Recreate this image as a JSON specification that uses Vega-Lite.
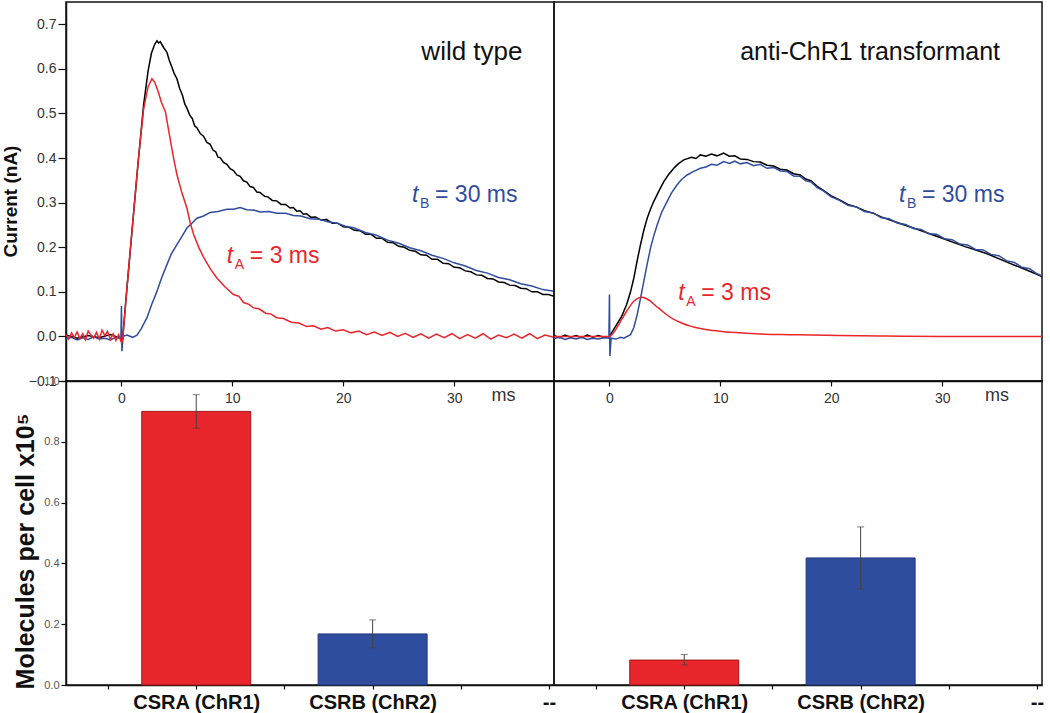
{
  "$schema": "https://vega.github.io/schema/vega-lite/v6.json",
  "background": "white",
  "padding": {"left": 0, "top": 1, "right": 2, "bottom": 4},
  "autosize": {"type": "pad"},
  "columns": 2,
  "spacing": 0,
  "bounds": "flush",
  "align": "each",
  "config": {
    "font": "Liberation Sans",
    "view": {"stroke": "#111111", "strokeWidth": 1.5},
    "axis": {"domainColor": "#111111", "domainWidth": 1.5, "tickColor": "#111111", "tickWidth": 1.2, "labelColor": "#333333", "labelFont": "Liberation Sans", "titleFont": "Liberation Sans", "titleColor": "#111111", "grid": false, "labelOverlap": false, "labelFlush": false}
  },
  "datasets": {
    "wt": [
      {"trace": "k", "t": -5, "v": 0.003}, {"trace": "k", "t": -4, "v": -0.004}, {"trace": "k", "t": -3, "v": 0.002}, {"trace": "k", "t": -2, "v": -0.003}, {"trace": "k", "t": -1, "v": 0.004}, {"trace": "k", "t": -0.1, "v": -0.004},
      {"trace": "k", "t": 0.1, "v": -0.006}, {"trace": "k", "t": 0.5, "v": 0.11}, {"trace": "k", "t": 1.0, "v": 0.25}, {"trace": "k", "t": 1.5, "v": 0.39}, {"trace": "k", "t": 2.0, "v": 0.52}, {"trace": "k", "t": 2.4, "v": 0.595}, {"trace": "k", "t": 2.7, "v": 0.635}, {"trace": "k", "t": 3.0, "v": 0.655}, {"trace": "k", "t": 3.2, "v": 0.663}, {"trace": "k", "t": 3.35, "v": 0.658}, {"trace": "k", "t": 3.5, "v": 0.661}, {"trace": "k", "t": 3.8, "v": 0.648}, {"trace": "k", "t": 4.1, "v": 0.637}, {"trace": "k", "t": 4.3, "v": 0.62}, {"trace": "k", "t": 4.5, "v": 0.607}, {"trace": "k", "t": 4.75, "v": 0.59}, {"trace": "k", "t": 5.0, "v": 0.578}, {"trace": "k", "t": 5.25, "v": 0.556}, {"trace": "k", "t": 5.5, "v": 0.541}, {"trace": "k", "t": 5.7, "v": 0.522}, {"trace": "k", "t": 5.9, "v": 0.512}, {"trace": "k", "t": 6.15, "v": 0.497}, {"trace": "k", "t": 6.4, "v": 0.488}, {"trace": "k", "t": 6.6, "v": 0.472}, {"trace": "k", "t": 6.8, "v": 0.468}, {"trace": "k", "t": 7.1, "v": 0.455}, {"trace": "k", "t": 7.4, "v": 0.449}, {"trace": "k", "t": 7.7, "v": 0.435}, {"trace": "k", "t": 8.0, "v": 0.431}, {"trace": "k", "t": 8.25, "v": 0.418}, {"trace": "k", "t": 8.5, "v": 0.414}, {"trace": "k", "t": 8.7, "v": 0.402}, {"trace": "k", "t": 8.9, "v": 0.401}, {"trace": "k", "t": 9.2, "v": 0.39}, {"trace": "k", "t": 9.5, "v": 0.386}, {"trace": "k", "t": 9.8, "v": 0.376}, {"trace": "k", "t": 10.1, "v": 0.372}, {"trace": "k", "t": 10.4, "v": 0.362}, {"trace": "k", "t": 10.7, "v": 0.359}, {"trace": "k", "t": 11.0, "v": 0.349}, {"trace": "k", "t": 11.3, "v": 0.346}, {"trace": "k", "t": 11.6, "v": 0.336}, {"trace": "k", "t": 11.9, "v": 0.334}, {"trace": "k", "t": 12.2, "v": 0.324}, {"trace": "k", "t": 12.5, "v": 0.323}, {"trace": "k", "t": 12.9, "v": 0.314}, {"trace": "k", "t": 13.2, "v": 0.313}, {"trace": "k", "t": 13.6, "v": 0.305}, {"trace": "k", "t": 14.0, "v": 0.304}, {"trace": "k", "t": 14.4, "v": 0.296}, {"trace": "k", "t": 14.8, "v": 0.296}, {"trace": "k", "t": 15.2, "v": 0.288}, {"trace": "k", "t": 15.5, "v": 0.289}, {"trace": "k", "t": 15.8, "v": 0.281}, {"trace": "k", "t": 16.1, "v": 0.282}, {"trace": "k", "t": 16.4, "v": 0.274}, {"trace": "k", "t": 16.7, "v": 0.275}, {"trace": "k", "t": 17.1, "v": 0.267}, {"trace": "k", "t": 17.5, "v": 0.268}, {"trace": "k", "t": 18.0, "v": 0.261}, {"trace": "k", "t": 18.5, "v": 0.262}, {"trace": "k", "t": 19.0, "v": 0.254}, {"trace": "k", "t": 19.5, "v": 0.254}, {"trace": "k", "t": 20.0, "v": 0.246}, {"trace": "k", "t": 20.5, "v": 0.245}, {"trace": "k", "t": 21.0, "v": 0.238}, {"trace": "k", "t": 21.5, "v": 0.237}, {"trace": "k", "t": 22.0, "v": 0.229}, {"trace": "k", "t": 22.5, "v": 0.229}, {"trace": "k", "t": 23.0, "v": 0.22}, {"trace": "k", "t": 23.5, "v": 0.22}, {"trace": "k", "t": 24.0, "v": 0.211}, {"trace": "k", "t": 24.5, "v": 0.21}, {"trace": "k", "t": 25, "v": 0.202}, {"trace": "k", "t": 25.5, "v": 0.2}, {"trace": "k", "t": 26, "v": 0.193}, {"trace": "k", "t": 26.5, "v": 0.191}, {"trace": "k", "t": 27, "v": 0.183}, {"trace": "k", "t": 27.5, "v": 0.182}, {"trace": "k", "t": 28, "v": 0.173}, {"trace": "k", "t": 28.5, "v": 0.173}, {"trace": "k", "t": 29, "v": 0.164}, {"trace": "k", "t": 29.5, "v": 0.163}, {"trace": "k", "t": 30, "v": 0.155}, {"trace": "k", "t": 30.5, "v": 0.154}, {"trace": "k", "t": 31, "v": 0.147}, {"trace": "k", "t": 31.5, "v": 0.145}, {"trace": "k", "t": 32, "v": 0.138}, {"trace": "k", "t": 32.5, "v": 0.137}, {"trace": "k", "t": 33, "v": 0.13}, {"trace": "k", "t": 33.5, "v": 0.129}, {"trace": "k", "t": 34, "v": 0.122}, {"trace": "k", "t": 34.5, "v": 0.121}, {"trace": "k", "t": 35, "v": 0.115}, {"trace": "k", "t": 35.5, "v": 0.114}, {"trace": "k", "t": 36, "v": 0.108}, {"trace": "k", "t": 36.5, "v": 0.107}, {"trace": "k", "t": 37, "v": 0.1}, {"trace": "k", "t": 37.5, "v": 0.1}, {"trace": "k", "t": 38, "v": 0.094}, {"trace": "k", "t": 38.5, "v": 0.094}, {"trace": "k", "t": 39, "v": 0.09},
      {"trace": "b", "t": -5, "v": -0.006}, {"trace": "b", "t": -4.5, "v": -0.002}, {"trace": "b", "t": -4, "v": -0.008}, {"trace": "b", "t": -3.5, "v": -0.003}, {"trace": "b", "t": -3, "v": -0.007}, {"trace": "b", "t": -2.5, "v": -0.001}, {"trace": "b", "t": -2, "v": -0.006}, {"trace": "b", "t": -1.5, "v": -0.004}, {"trace": "b", "t": -1, "v": -0.008}, {"trace": "b", "t": -0.5, "v": -0.002}, {"trace": "b", "t": -0.05, "v": -0.005}, {"trace": "b", "t": 0, "v": 0.068}, {"trace": "b", "t": 0.04, "v": -0.033}, {"trace": "b", "t": 0.15, "v": 0.0}, {"trace": "b", "t": 0.5, "v": 0.003}, {"trace": "b", "t": 1.0, "v": -0.002}, {"trace": "b", "t": 1.4, "v": 0.003}, {"trace": "b", "t": 1.8, "v": 0.018}, {"trace": "b", "t": 2.3, "v": 0.042}, {"trace": "b", "t": 2.7, "v": 0.07}, {"trace": "b", "t": 3.2, "v": 0.101}, {"trace": "b", "t": 3.6, "v": 0.13}, {"trace": "b", "t": 4.1, "v": 0.161}, {"trace": "b", "t": 4.5, "v": 0.185}, {"trace": "b", "t": 5.0, "v": 0.206}, {"trace": "b", "t": 5.5, "v": 0.226}, {"trace": "b", "t": 5.9, "v": 0.243}, {"trace": "b", "t": 6.4, "v": 0.255}, {"trace": "b", "t": 6.8, "v": 0.265}, {"trace": "b", "t": 7.4, "v": 0.27}, {"trace": "b", "t": 8.0, "v": 0.278}, {"trace": "b", "t": 8.7, "v": 0.28}, {"trace": "b", "t": 9.5, "v": 0.285}, {"trace": "b", "t": 10.1, "v": 0.285}, {"trace": "b", "t": 10.7, "v": 0.289}, {"trace": "b", "t": 11.3, "v": 0.284}, {"trace": "b", "t": 12.0, "v": 0.283}, {"trace": "b", "t": 12.5, "v": 0.279}, {"trace": "b", "t": 13.3, "v": 0.28}, {"trace": "b", "t": 14.0, "v": 0.276}, {"trace": "b", "t": 14.8, "v": 0.276}, {"trace": "b", "t": 15.5, "v": 0.271}, {"trace": "b", "t": 16.2, "v": 0.27}, {"trace": "b", "t": 17.0, "v": 0.264}, {"trace": "b", "t": 17.8, "v": 0.263}, {"trace": "b", "t": 18.6, "v": 0.257}, {"trace": "b", "t": 19.4, "v": 0.254}, {"trace": "b", "t": 20.2, "v": 0.247}, {"trace": "b", "t": 21, "v": 0.243}, {"trace": "b", "t": 22, "v": 0.233}, {"trace": "b", "t": 23, "v": 0.227}, {"trace": "b", "t": 24, "v": 0.216}, {"trace": "b", "t": 25, "v": 0.209}, {"trace": "b", "t": 26, "v": 0.199}, {"trace": "b", "t": 27, "v": 0.192}, {"trace": "b", "t": 28, "v": 0.182}, {"trace": "b", "t": 29, "v": 0.175}, {"trace": "b", "t": 30, "v": 0.165}, {"trace": "b", "t": 31, "v": 0.158}, {"trace": "b", "t": 32, "v": 0.148}, {"trace": "b", "t": 33, "v": 0.142}, {"trace": "b", "t": 34, "v": 0.132}, {"trace": "b", "t": 35, "v": 0.127}, {"trace": "b", "t": 36, "v": 0.118}, {"trace": "b", "t": 37, "v": 0.113}, {"trace": "b", "t": 38, "v": 0.105}, {"trace": "b", "t": 39, "v": 0.101},
      {"trace": "r", "t": -5, "v": 0.004}, {"trace": "r", "t": -4.75, "v": -0.006}, {"trace": "r", "t": -4.5, "v": 0.008}, {"trace": "r", "t": -4.25, "v": -0.003}, {"trace": "r", "t": -4, "v": 0.01}, {"trace": "r", "t": -3.75, "v": -0.005}, {"trace": "r", "t": -3.5, "v": 0.006}, {"trace": "r", "t": -3.25, "v": -0.008}, {"trace": "r", "t": -3, "v": 0.012}, {"trace": "r", "t": -2.75, "v": 0.003}, {"trace": "r", "t": -2.5, "v": -0.004}, {"trace": "r", "t": -2.25, "v": 0.009}, {"trace": "r", "t": -2, "v": -0.006}, {"trace": "r", "t": -1.75, "v": 0.014}, {"trace": "r", "t": -1.5, "v": 0.002}, {"trace": "r", "t": -1.25, "v": 0.011}, {"trace": "r", "t": -1, "v": -0.007}, {"trace": "r", "t": -0.75, "v": 0.006}, {"trace": "r", "t": -0.5, "v": -0.009}, {"trace": "r", "t": -0.25, "v": 0.004}, {"trace": "r", "t": 0, "v": -0.014},
      {"trace": "r", "t": 0.1, "v": -0.01}, {"trace": "r", "t": 0.5, "v": 0.11}, {"trace": "r", "t": 1.0, "v": 0.25}, {"trace": "r", "t": 1.5, "v": 0.39}, {"trace": "r", "t": 2.0, "v": 0.51}, {"trace": "r", "t": 2.4, "v": 0.56}, {"trace": "r", "t": 2.75, "v": 0.578}, {"trace": "r", "t": 3.0, "v": 0.57}, {"trace": "r", "t": 3.3, "v": 0.55}, {"trace": "r", "t": 3.6, "v": 0.525}, {"trace": "r", "t": 3.96, "v": 0.504}, {"trace": "r", "t": 4.2, "v": 0.47}, {"trace": "r", "t": 4.41, "v": 0.44}, {"trace": "r", "t": 4.7, "v": 0.4}, {"trace": "r", "t": 5.0, "v": 0.363}, {"trace": "r", "t": 5.45, "v": 0.322}, {"trace": "r", "t": 5.9, "v": 0.288}, {"trace": "r", "t": 6.2, "v": 0.255}, {"trace": "r", "t": 6.5, "v": 0.229}, {"trace": "r", "t": 7.0, "v": 0.198}, {"trace": "r", "t": 7.4, "v": 0.178}, {"trace": "r", "t": 8.0, "v": 0.152}, {"trace": "r", "t": 8.6, "v": 0.131}, {"trace": "r", "t": 9.3, "v": 0.112}, {"trace": "r", "t": 10.1, "v": 0.094}, {"trace": "r", "t": 10.6, "v": 0.09}, {"trace": "r", "t": 11.0, "v": 0.076}, {"trace": "r", "t": 11.5, "v": 0.072}, {"trace": "r", "t": 11.9, "v": 0.064}, {"trace": "r", "t": 12.4, "v": 0.062}, {"trace": "r", "t": 13.0, "v": 0.052}, {"trace": "r", "t": 13.5, "v": 0.05}, {"trace": "r", "t": 14.0, "v": 0.042}, {"trace": "r", "t": 14.6, "v": 0.04}, {"trace": "r", "t": 15.3, "v": 0.032}, {"trace": "r", "t": 16.0, "v": 0.03}, {"trace": "r", "t": 16.7, "v": 0.022}, {"trace": "r", "t": 17.3, "v": 0.024}, {"trace": "r", "t": 18.0, "v": 0.016}, {"trace": "r", "t": 18.6, "v": 0.02}, {"trace": "r", "t": 19.3, "v": 0.012}, {"trace": "r", "t": 20.0, "v": 0.015}, {"trace": "r", "t": 20.7, "v": 0.008}, {"trace": "r", "t": 21.4, "v": 0.012}, {"trace": "r", "t": 22.1, "v": 0.004}, {"trace": "r", "t": 22.8, "v": 0.01}, {"trace": "r", "t": 23.5, "v": 0.002}, {"trace": "r", "t": 24.2, "v": 0.009}, {"trace": "r", "t": 24.9, "v": 0.0}, {"trace": "r", "t": 25.6, "v": 0.007}, {"trace": "r", "t": 26.3, "v": -0.002}, {"trace": "r", "t": 27, "v": 0.006}, {"trace": "r", "t": 27.7, "v": -0.004}, {"trace": "r", "t": 28.4, "v": 0.005}, {"trace": "r", "t": 29.1, "v": -0.003}, {"trace": "r", "t": 29.8, "v": 0.006}, {"trace": "r", "t": 30.5, "v": -0.005}, {"trace": "r", "t": 31.2, "v": 0.004}, {"trace": "r", "t": 31.9, "v": -0.004}, {"trace": "r", "t": 32.6, "v": 0.006}, {"trace": "r", "t": 33.3, "v": -0.006}, {"trace": "r", "t": 34, "v": 0.003}, {"trace": "r", "t": 34.7, "v": -0.003}, {"trace": "r", "t": 35.4, "v": 0.005}, {"trace": "r", "t": 36.1, "v": -0.004}, {"trace": "r", "t": 36.8, "v": 0.006}, {"trace": "r", "t": 37.5, "v": -0.005}, {"trace": "r", "t": 38.2, "v": 0.003}, {"trace": "r", "t": 39, "v": -0.002}
    ],
    "anti": [
      {"trace": "k", "t": -5, "v": 0.002}, {"trace": "k", "t": -4.5, "v": -0.003}, {"trace": "k", "t": -4, "v": 0.003}, {"trace": "k", "t": -3.5, "v": -0.002}, {"trace": "k", "t": -3, "v": 0.002}, {"trace": "k", "t": -2.5, "v": -0.003}, {"trace": "k", "t": -2, "v": 0.003}, {"trace": "k", "t": -1.5, "v": -0.002}, {"trace": "k", "t": -1, "v": 0.002}, {"trace": "k", "t": -0.5, "v": -0.002}, {"trace": "k", "t": 0, "v": 0.0}, {"trace": "k", "t": 0.66, "v": 0.027}, {"trace": "k", "t": 1.1, "v": 0.045}, {"trace": "k", "t": 1.56, "v": 0.072}, {"trace": "k", "t": 1.9, "v": 0.1}, {"trace": "k", "t": 2.2, "v": 0.131}, {"trace": "k", "t": 2.5, "v": 0.17}, {"trace": "k", "t": 2.8, "v": 0.206}, {"trace": "k", "t": 3.1, "v": 0.238}, {"trace": "k", "t": 3.4, "v": 0.265}, {"trace": "k", "t": 3.7, "v": 0.285}, {"trace": "k", "t": 4.0, "v": 0.303}, {"trace": "k", "t": 4.5, "v": 0.328}, {"trace": "k", "t": 4.9, "v": 0.347}, {"trace": "k", "t": 5.3, "v": 0.362}, {"trace": "k", "t": 5.8, "v": 0.377}, {"trace": "k", "t": 6.2, "v": 0.387}, {"trace": "k", "t": 6.7, "v": 0.396}, {"trace": "k", "t": 7.4, "v": 0.402}, {"trace": "k", "t": 7.8, "v": 0.399}, {"trace": "k", "t": 8.2, "v": 0.407}, {"trace": "k", "t": 8.7, "v": 0.404}, {"trace": "k", "t": 9.2, "v": 0.409}, {"trace": "k", "t": 9.7, "v": 0.405}, {"trace": "k", "t": 10.3, "v": 0.411}, {"trace": "k", "t": 10.8, "v": 0.404}, {"trace": "k", "t": 11.3, "v": 0.405}, {"trace": "k", "t": 11.8, "v": 0.398}, {"trace": "k", "t": 12.4, "v": 0.397}, {"trace": "k", "t": 13.0, "v": 0.392}, {"trace": "k", "t": 13.6, "v": 0.391}, {"trace": "k", "t": 14.2, "v": 0.384}, {"trace": "k", "t": 14.8, "v": 0.382}, {"trace": "k", "t": 15.4, "v": 0.375}, {"trace": "k", "t": 16, "v": 0.373}, {"trace": "k", "t": 16.6, "v": 0.365}, {"trace": "k", "t": 17.2, "v": 0.362}, {"trace": "k", "t": 17.7, "v": 0.353}, {"trace": "k", "t": 18.2, "v": 0.349}, {"trace": "k", "t": 18.7, "v": 0.337}, {"trace": "k", "t": 19.25, "v": 0.328}, {"trace": "k", "t": 20, "v": 0.315}, {"trace": "k", "t": 20.75, "v": 0.306}, {"trace": "k", "t": 21.5, "v": 0.296}, {"trace": "k", "t": 22.3, "v": 0.29}, {"trace": "k", "t": 23, "v": 0.282}, {"trace": "k", "t": 23.8, "v": 0.276}, {"trace": "k", "t": 24.5, "v": 0.268}, {"trace": "k", "t": 26, "v": 0.255}, {"trace": "k", "t": 28, "v": 0.238}, {"trace": "k", "t": 30, "v": 0.22}, {"trace": "k", "t": 32, "v": 0.202}, {"trace": "k", "t": 34, "v": 0.186}, {"trace": "k", "t": 36, "v": 0.165}, {"trace": "k", "t": 38, "v": 0.145}, {"trace": "k", "t": 39, "v": 0.134},
      {"trace": "b", "t": -5, "v": -0.005}, {"trace": "b", "t": -4.5, "v": -0.002}, {"trace": "b", "t": -4, "v": -0.007}, {"trace": "b", "t": -3.5, "v": -0.003}, {"trace": "b", "t": -3, "v": -0.006}, {"trace": "b", "t": -2.5, "v": -0.002}, {"trace": "b", "t": -2, "v": -0.007}, {"trace": "b", "t": -1.5, "v": -0.004}, {"trace": "b", "t": -1, "v": -0.006}, {"trace": "b", "t": -0.5, "v": -0.003}, {"trace": "b", "t": -0.05, "v": -0.004}, {"trace": "b", "t": 0, "v": 0.094}, {"trace": "b", "t": 0.04, "v": -0.044}, {"trace": "b", "t": 0.15, "v": -0.004}, {"trace": "b", "t": 0.6, "v": -0.006}, {"trace": "b", "t": 1.0, "v": -0.002}, {"trace": "b", "t": 1.3, "v": -0.004}, {"trace": "b", "t": 1.9, "v": 0.004}, {"trace": "b", "t": 2.2, "v": 0.02}, {"trace": "b", "t": 2.5, "v": 0.049}, {"trace": "b", "t": 2.8, "v": 0.085}, {"trace": "b", "t": 3.1, "v": 0.124}, {"trace": "b", "t": 3.4, "v": 0.162}, {"trace": "b", "t": 3.7, "v": 0.198}, {"trace": "b", "t": 4.0, "v": 0.226}, {"trace": "b", "t": 4.3, "v": 0.25}, {"trace": "b", "t": 4.7, "v": 0.278}, {"trace": "b", "t": 5.2, "v": 0.303}, {"trace": "b", "t": 5.6, "v": 0.322}, {"trace": "b", "t": 6.1, "v": 0.34}, {"trace": "b", "t": 6.5, "v": 0.352}, {"trace": "b", "t": 7.0, "v": 0.362}, {"trace": "b", "t": 7.6, "v": 0.37}, {"trace": "b", "t": 8.2, "v": 0.377}, {"trace": "b", "t": 8.7, "v": 0.38}, {"trace": "b", "t": 9.2, "v": 0.386}, {"trace": "b", "t": 9.7, "v": 0.384}, {"trace": "b", "t": 10.3, "v": 0.392}, {"trace": "b", "t": 10.8, "v": 0.388}, {"trace": "b", "t": 11.3, "v": 0.393}, {"trace": "b", "t": 11.8, "v": 0.387}, {"trace": "b", "t": 12.4, "v": 0.39}, {"trace": "b", "t": 13.0, "v": 0.383}, {"trace": "b", "t": 13.6, "v": 0.386}, {"trace": "b", "t": 14.2, "v": 0.377}, {"trace": "b", "t": 14.8, "v": 0.379}, {"trace": "b", "t": 15.4, "v": 0.371}, {"trace": "b", "t": 16, "v": 0.37}, {"trace": "b", "t": 16.6, "v": 0.36}, {"trace": "b", "t": 17.2, "v": 0.359}, {"trace": "b", "t": 17.7, "v": 0.349}, {"trace": "b", "t": 18.2, "v": 0.346}, {"trace": "b", "t": 18.7, "v": 0.334}, {"trace": "b", "t": 19.25, "v": 0.327}, {"trace": "b", "t": 20, "v": 0.313}, {"trace": "b", "t": 20.75, "v": 0.305}, {"trace": "b", "t": 21.5, "v": 0.294}, {"trace": "b", "t": 22.3, "v": 0.29}, {"trace": "b", "t": 23, "v": 0.28}, {"trace": "b", "t": 23.8, "v": 0.277}, {"trace": "b", "t": 24.5, "v": 0.266}, {"trace": "b", "t": 25.2, "v": 0.264}, {"trace": "b", "t": 26, "v": 0.254}, {"trace": "b", "t": 26.7, "v": 0.251}, {"trace": "b", "t": 27.4, "v": 0.242}, {"trace": "b", "t": 28.1, "v": 0.24}, {"trace": "b", "t": 28.8, "v": 0.23}, {"trace": "b", "t": 29.5, "v": 0.229}, {"trace": "b", "t": 30.2, "v": 0.219}, {"trace": "b", "t": 30.9, "v": 0.217}, {"trace": "b", "t": 31.6, "v": 0.207}, {"trace": "b", "t": 32.3, "v": 0.205}, {"trace": "b", "t": 33, "v": 0.195}, {"trace": "b", "t": 33.7, "v": 0.194}, {"trace": "b", "t": 34.4, "v": 0.184}, {"trace": "b", "t": 35.1, "v": 0.181}, {"trace": "b", "t": 35.8, "v": 0.17}, {"trace": "b", "t": 36.5, "v": 0.166}, {"trace": "b", "t": 37.2, "v": 0.155}, {"trace": "b", "t": 37.9, "v": 0.152}, {"trace": "b", "t": 38.5, "v": 0.141}, {"trace": "b", "t": 39, "v": 0.136},
      {"trace": "r", "t": -5, "v": 0.0}, {"trace": "r", "t": -2, "v": 0.0}, {"trace": "r", "t": 0, "v": 0.0}, {"trace": "r", "t": 0.3, "v": 0.006}, {"trace": "r", "t": 0.66, "v": 0.019}, {"trace": "r", "t": 1.1, "v": 0.038}, {"trace": "r", "t": 1.56, "v": 0.057}, {"trace": "r", "t": 2.2, "v": 0.079}, {"trace": "r", "t": 2.6, "v": 0.086}, {"trace": "r", "t": 2.9, "v": 0.088}, {"trace": "r", "t": 3.3, "v": 0.085}, {"trace": "r", "t": 3.7, "v": 0.079}, {"trace": "r", "t": 4.1, "v": 0.07}, {"trace": "r", "t": 4.6, "v": 0.06}, {"trace": "r", "t": 5.2, "v": 0.048}, {"trace": "r", "t": 5.8, "v": 0.038}, {"trace": "r", "t": 6.5, "v": 0.03}, {"trace": "r", "t": 7.3, "v": 0.023}, {"trace": "r", "t": 8.3, "v": 0.017}, {"trace": "r", "t": 9.4, "v": 0.013}, {"trace": "r", "t": 10.5, "v": 0.01}, {"trace": "r", "t": 11.8, "v": 0.008}, {"trace": "r", "t": 14, "v": 0.005}, {"trace": "r", "t": 16.3, "v": 0.004}, {"trace": "r", "t": 20.8, "v": 0.002}, {"trace": "r", "t": 25, "v": 0.001}, {"trace": "r", "t": 30, "v": 0.0}, {"trace": "r", "t": 39, "v": 0.0}
    ],
    "wtLabel": [{"label": "wild type", "t": 31.6, "v": 0.638}],
    "antiLabel": [{"label": "anti-ChR1 transformant", "t": 23.5, "v": 0.638}],
    "wtTau": [
      {"sym": "t", "sub": "B", "rest": "= 30 ms", "comp": "slow", "t": 26.2, "v": 0.318},
      {"sym": "t", "sub": "A", "rest": "= 3 ms", "comp": "fast", "t": 9.5, "v": 0.18}
    ],
    "antiTau": [
      {"sym": "t", "sub": "B", "rest": "= 30 ms", "comp": "slow", "t": 26.1, "v": 0.318},
      {"sym": "t", "sub": "A", "rest": "= 3 ms", "comp": "fast", "t": 6.2, "v": 0.097}
    ],
    "bars": [
      {"strain": "wt", "pos": 1, "protein": "CSRA (ChR1)", "value": 0.9, "lo": 0.845, "hi": 0.955},
      {"strain": "wt", "pos": 2, "protein": "CSRB (ChR2)", "value": 0.168, "lo": 0.122, "hi": 0.214},
      {"strain": "anti", "pos": 1, "protein": "CSRA (ChR1)", "value": 0.082, "lo": 0.066, "hi": 0.1},
      {"strain": "anti", "pos": 2, "protein": "CSRB (ChR2)", "value": 0.418, "lo": 0.316, "hi": 0.52}
    ]
  },
  "concat": [
    {
      "width": 488, "height": 379,
      "data": {"name": "wt"},
      "layer": [
        {"transform": [{"filter": "datum.trace === 'k'"}], "mark": {"type": "line", "color": "#000000", "strokeWidth": 1.5, "clip": true},
         "encoding": {
           "x": {"field": "t", "type": "quantitative", "scale": {"domain": [-5, 39], "nice": false, "zero": false},
                 "axis": {"title": null, "values": [0, 10, 20, 30, 34.4], "format": "d", "labelExpr": "datum.value > 31 ? 'ms' : datum.label",
                          "tickSize": 5, "tickOpacity": {"condition": {"test": "datum.value > 31", "value": 0}, "value": 1},
                          "labelFontSize": {"condition": {"test": "datum.value > 31", "value": 18}, "value": 14},
                          "labelPadding": {"condition": {"test": "datum.value > 31", "value": 0}, "value": 5}}},
           "y": {"field": "v", "type": "quantitative", "scale": {"domain": [-0.1, 0.75], "nice": false, "zero": false},
                 "axis": {"title": "Current (nA)", "titleFontSize": 19, "titleFontWeight": "bold", "titleX": -46, "titleY": 199, "titleBaseline": "bottom",
                          "values": [-0.1, -0.05, 0, 0.05, 0.1, 0.15, 0.2, 0.25, 0.3, 0.35, 0.4, 0.45, 0.5, 0.55, 0.6, 0.65, 0.7],
                          "labelExpr": "abs(datum.value*10 - round(datum.value*10)) > 0.01 ? '' : format(datum.value, '.1f')",
                          "tickSize": {"condition": {"test": "abs(datum.value*10 - round(datum.value*10)) > 0.01", "value": 4}, "value": 8},
                          "labelFontSize": 14, "labelPadding": 2}}
         }},
        {"transform": [{"filter": "datum.trace === 'b'"}], "mark": {"type": "line", "color": "#2F4D9E", "strokeWidth": 1.5, "clip": true},
         "encoding": {"x": {"field": "t", "type": "quantitative"}, "y": {"field": "v", "type": "quantitative"}}},
        {"transform": [{"filter": "datum.trace === 'r'"}], "mark": {"type": "line", "color": "#E8262B", "strokeWidth": 1.5, "clip": true},
         "encoding": {"x": {"field": "t", "type": "quantitative"}, "y": {"field": "v", "type": "quantitative"}}},
        {"data": {"name": "wtLabel"}, "mark": {"type": "text", "fontSize": 26, "align": "center", "baseline": "middle", "color": "#111111"},
         "encoding": {"x": {"field": "t", "type": "quantitative"}, "y": {"field": "v", "type": "quantitative"}, "text": {"field": "label"}}},
        {"data": {"name": "wtTau"}, "mark": {"type": "text", "fontSize": 23, "fontStyle": "italic", "align": "left", "baseline": "middle"},
         "encoding": {"x": {"field": "t", "type": "quantitative"}, "y": {"field": "v", "type": "quantitative"}, "text": {"field": "sym"},
                      "color": {"field": "comp", "type": "nominal", "scale": {"domain": ["fast", "slow"], "range": ["#E8262B", "#2F4D9E"]}, "legend": null}}},
        {"data": {"name": "wtTau"}, "mark": {"type": "text", "fontSize": 14, "align": "left", "baseline": "middle", "dx": 8, "dy": 9},
         "encoding": {"x": {"field": "t", "type": "quantitative"}, "y": {"field": "v", "type": "quantitative"}, "text": {"field": "sub"},
                      "color": {"field": "comp", "type": "nominal", "legend": null}}},
        {"data": {"name": "wtTau"}, "mark": {"type": "text", "fontSize": 23, "align": "left", "baseline": "middle", "dx": 23},
         "encoding": {"x": {"field": "t", "type": "quantitative"}, "y": {"field": "v", "type": "quantitative"}, "text": {"field": "rest"},
                      "color": {"field": "comp", "type": "nominal", "legend": null}}}
      ]
    },
    {
      "width": 488, "height": 379,
      "data": {"name": "anti"},
      "layer": [
        {"transform": [{"filter": "datum.trace === 'k'"}], "mark": {"type": "line", "color": "#000000", "strokeWidth": 1.5, "clip": true},
         "encoding": {
           "x": {"field": "t", "type": "quantitative", "scale": {"domain": [-5, 39], "nice": false, "zero": false},
                 "axis": {"title": null, "values": [0, 10, 20, 30, 34.9], "format": "d", "labelExpr": "datum.value > 31 ? 'ms' : datum.label",
                          "tickSize": 5, "tickOpacity": {"condition": {"test": "datum.value > 31", "value": 0}, "value": 1},
                          "labelFontSize": {"condition": {"test": "datum.value > 31", "value": 18}, "value": 14},
                          "labelPadding": {"condition": {"test": "datum.value > 31", "value": 0}, "value": 5}}},
           "y": {"field": "v", "type": "quantitative", "scale": {"domain": [-0.1, 0.75], "nice": false, "zero": false}, "axis": null}
         }},
        {"transform": [{"filter": "datum.trace === 'b'"}], "mark": {"type": "line", "color": "#2F4D9E", "strokeWidth": 1.5, "clip": true},
         "encoding": {"x": {"field": "t", "type": "quantitative"}, "y": {"field": "v", "type": "quantitative"}}},
        {"transform": [{"filter": "datum.trace === 'r'"}], "mark": {"type": "line", "color": "#E8262B", "strokeWidth": 1.5, "clip": true, "interpolate": "monotone"},
         "encoding": {"x": {"field": "t", "type": "quantitative"}, "y": {"field": "v", "type": "quantitative"}}},
        {"data": {"name": "antiLabel"}, "mark": {"type": "text", "fontSize": 25, "align": "center", "baseline": "middle", "color": "#111111"},
         "encoding": {"x": {"field": "t", "type": "quantitative"}, "y": {"field": "v", "type": "quantitative"}, "text": {"field": "label"}}},
        {"data": {"name": "antiTau"}, "mark": {"type": "text", "fontSize": 23, "fontStyle": "italic", "align": "left", "baseline": "middle"},
         "encoding": {"x": {"field": "t", "type": "quantitative"}, "y": {"field": "v", "type": "quantitative"}, "text": {"field": "sym"},
                      "color": {"field": "comp", "type": "nominal", "scale": {"domain": ["fast", "slow"], "range": ["#E8262B", "#2F4D9E"]}, "legend": null}}},
        {"data": {"name": "antiTau"}, "mark": {"type": "text", "fontSize": 14, "align": "left", "baseline": "middle", "dx": 8, "dy": 9},
         "encoding": {"x": {"field": "t", "type": "quantitative"}, "y": {"field": "v", "type": "quantitative"}, "text": {"field": "sub"},
                      "color": {"field": "comp", "type": "nominal", "legend": null}}},
        {"data": {"name": "antiTau"}, "mark": {"type": "text", "fontSize": 23, "align": "left", "baseline": "middle", "dx": 23},
         "encoding": {"x": {"field": "t", "type": "quantitative"}, "y": {"field": "v", "type": "quantitative"}, "text": {"field": "rest"},
                      "color": {"field": "comp", "type": "nominal", "legend": null}}}
      ]
    },
    {
      "width": 488, "height": 304,
      "data": {"name": "bars"},
      "transform": [{"filter": "datum.strain === 'wt'"}],
      "layer": [
        {"mark": {"type": "bar", "width": 109, "strokeWidth": 1},
         "encoding": {
           "x": {"field": "pos", "type": "quantitative", "scale": {"domain": [0.29, 3], "nice": false, "zero": false},
                 "axis": {"title": null, "values": [0.5, 1, 1.5, 2, 2.5, 3], "labelExpr": "datum.value == 1 ? 'CSRA (ChR1)' : datum.value == 2 ? 'CSRB (ChR2)' : datum.value == 3 ? '--' : ''",
                          "labelFontSize": 20, "labelFontWeight": "bold", "labelColor": "#111111", "tickSize": 4, "labelPadding": 3}},
           "y": {"field": "value", "type": "quantitative", "scale": {"domain": [0, 1.0], "nice": false, "zero": false},
                 "axis": {"title": "Molecules per cell x10⁵", "titleFontSize": 25, "titleFontWeight": "bold", "titleX": -28, "titleY": 170, "titleBaseline": "bottom",
                          "values": [0, 0.1, 0.2, 0.3, 0.4, 0.5, 0.6, 0.7, 0.8, 0.9, 1.0],
                          "labelExpr": "abs(datum.value*5 - round(datum.value*5)) > 0.01 ? '' : format(datum.value, '.1f')",
                          "tickSize": {"condition": {"test": "abs(datum.value*5 - round(datum.value*5)) > 0.01", "value": 3}, "value": 5},
                          "labelFontSize": 11, "labelColor": "#555555", "labelPadding": 2}},
           "y2": {"datum": 0},
           "color": {"field": "protein", "type": "nominal", "scale": {"domain": ["CSRA (ChR1)", "CSRB (ChR2)"], "range": ["#ED2024", "#3A54A4"]}, "legend": null},
           "stroke": {"field": "protein", "type": "nominal", "scale": {"domain": ["CSRA (ChR1)", "CSRB (ChR2)"], "range": ["#A31519", "#22387F"]}, "legend": null}
         }},
        {"mark": {"type": "errorbar", "ticks": {"size": 7}, "color": "#444444", "thickness": 1},
         "encoding": {"x": {"field": "pos", "type": "quantitative"}, "y": {"field": "lo", "type": "quantitative", "title": "Molecules per cell x10⁵"}, "y2": {"field": "hi"}}}
      ]
    },
    {
      "width": 488, "height": 304,
      "data": {"name": "bars"},
      "transform": [{"filter": "datum.strain === 'anti'"}],
      "layer": [
        {"mark": {"type": "bar", "width": 109, "strokeWidth": 1},
         "encoding": {
           "x": {"field": "pos", "type": "quantitative", "scale": {"domain": [0.29, 3], "nice": false, "zero": false},
                 "axis": {"title": null, "values": [0.5, 1, 1.5, 2, 2.5, 3], "labelExpr": "datum.value == 1 ? 'CSRA (ChR1)' : datum.value == 2 ? 'CSRB (ChR2)' : datum.value == 3 ? '--' : ''",
                          "labelFontSize": 20, "labelFontWeight": "bold", "labelColor": "#111111", "tickSize": 4, "labelPadding": 3}},
           "y": {"field": "value", "type": "quantitative", "scale": {"domain": [0, 1.0], "nice": false, "zero": false}, "axis": null},
           "y2": {"datum": 0},
           "color": {"field": "protein", "type": "nominal", "scale": {"domain": ["CSRA (ChR1)", "CSRB (ChR2)"], "range": ["#ED2024", "#3A54A4"]}, "legend": null},
           "stroke": {"field": "protein", "type": "nominal", "scale": {"domain": ["CSRA (ChR1)", "CSRB (ChR2)"], "range": ["#A31519", "#22387F"]}, "legend": null}
         }},
        {"mark": {"type": "errorbar", "ticks": {"size": 7}, "color": "#444444", "thickness": 1},
         "encoding": {"x": {"field": "pos", "type": "quantitative"}, "y": {"field": "lo", "type": "quantitative", "axis": null}, "y2": {"field": "hi"}}}
      ]
    }
  ]
}
